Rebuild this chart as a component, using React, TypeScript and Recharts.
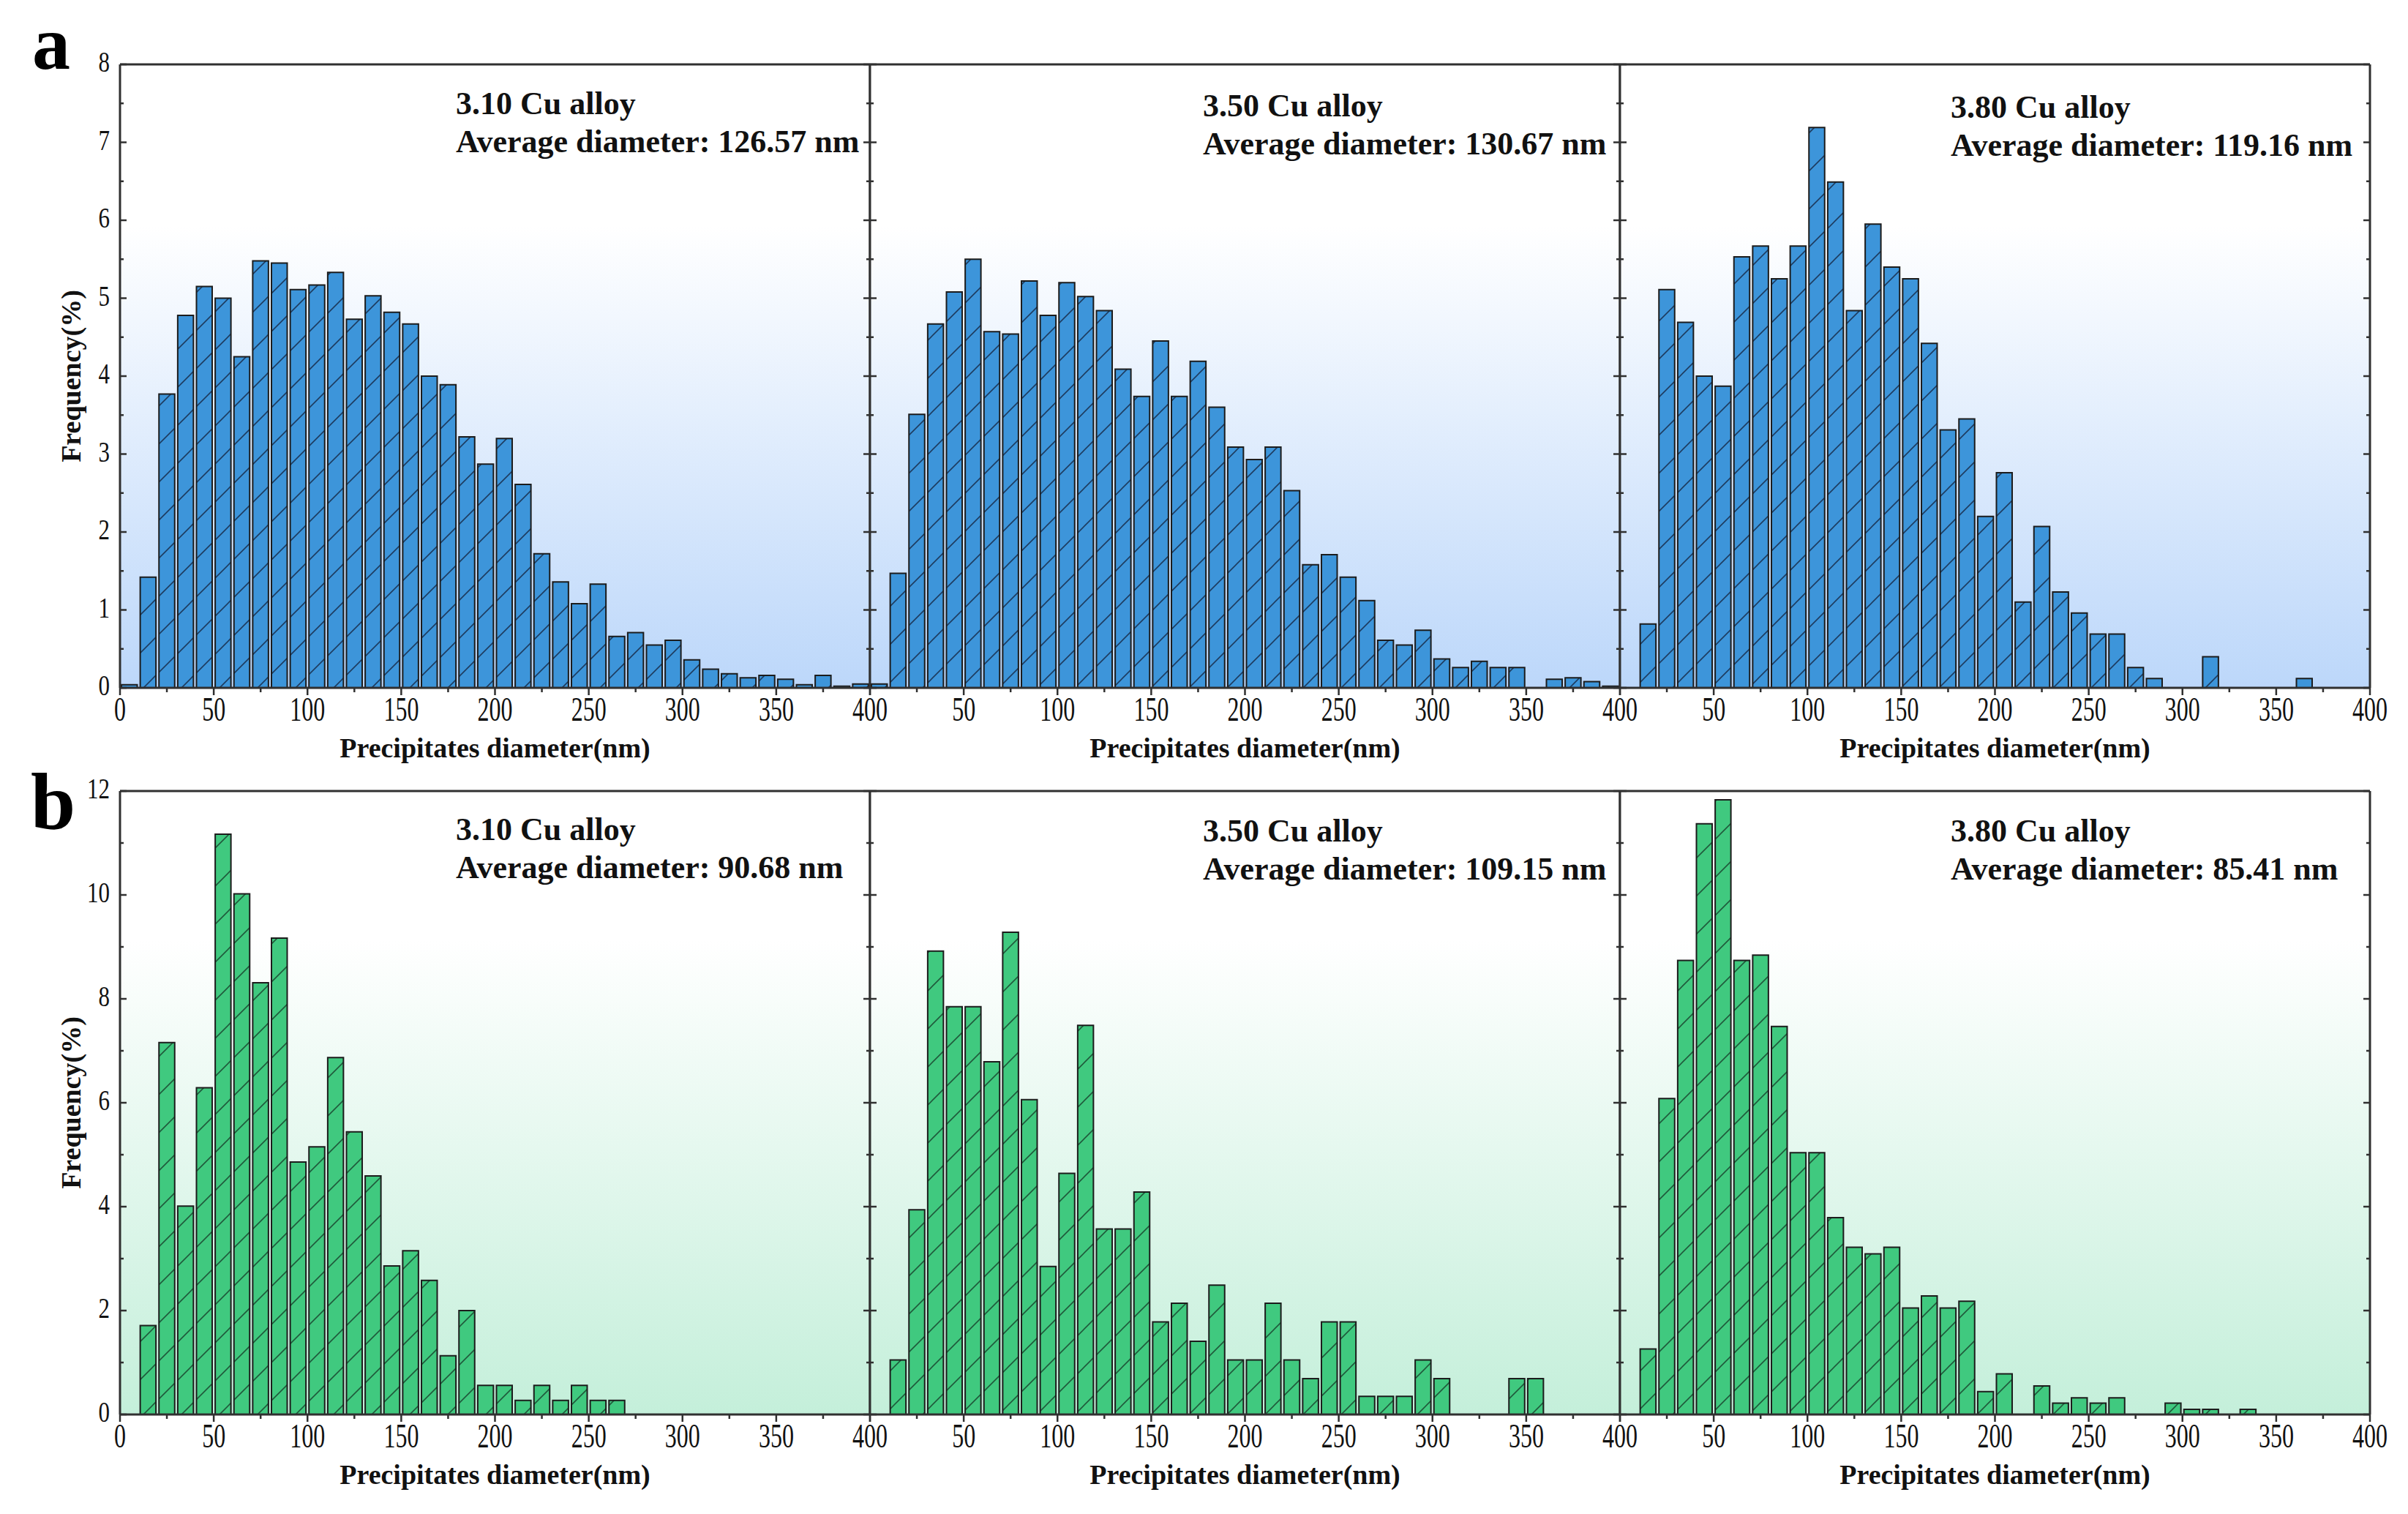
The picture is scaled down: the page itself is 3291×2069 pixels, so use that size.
import React from 'react';
import { BarChart, Bar, XAxis, YAxis, CartesianGrid, ReferenceLine } from 'recharts';

// ---------- data ----------
const binCenters = [5, 15, 25, 35, 45, 55, 65, 75, 85, 95, 105, 115, 125, 135, 145, 155, 165, 175, 185, 195,
  205, 215, 225, 235, 245, 255, 265, 275, 285, 295, 305, 315, 325, 335, 345, 355, 365, 375, 385, 395];

const freqA310 = [0.04, 1.42, 3.77, 4.78, 5.15, 5.0, 4.25, 5.48, 5.45, 5.11, 5.17, 5.33, 4.73, 5.03, 4.82, 4.67, 4.0, 3.89, 3.22, 2.87,
  3.2, 2.61, 1.72, 1.36, 1.08, 1.33, 0.66, 0.71, 0.55, 0.61, 0.36, 0.24, 0.18, 0.13, 0.16, 0.11, 0.04, 0.16, 0.02, 0.05];
const freqA350 = [0.05, 1.47, 3.51, 4.67, 5.08, 5.5, 4.57, 4.54, 5.22, 4.78, 5.2, 5.02, 4.84, 4.09, 3.74, 4.45, 3.74, 4.19, 3.6, 3.09,
  2.93, 3.09, 2.53, 1.58, 1.71, 1.42, 1.12, 0.61, 0.55, 0.74, 0.37, 0.26, 0.34, 0.26, 0.26, 0, 0.11, 0.13, 0.08, 0.02];
const freqA380 = [0, 0.82, 5.11, 4.69, 4.0, 3.87, 5.53, 5.67, 5.25, 5.67, 7.19, 6.49, 4.84, 5.95, 5.4, 5.25, 4.42, 3.31, 3.45, 2.2,
  2.76, 1.1, 2.07, 1.23, 0.96, 0.69, 0.69, 0.26, 0.12, 0, 0, 0.4, 0, 0, 0, 0, 0.12, 0, 0, 0];

const freqB310 = [0, 1.71, 7.16, 4.01, 6.29, 11.17, 10.02, 8.31, 9.17, 4.86, 5.15, 6.87, 5.44, 4.59, 2.86, 3.15, 2.58, 1.13, 2.0, 0.56,
  0.56, 0.27, 0.56, 0.27, 0.56, 0.27, 0.27, 0, 0, 0, 0, 0, 0, 0, 0, 0, 0, 0, 0, 0];
const freqB350 = [0, 1.05, 3.94, 8.92, 7.85, 7.85, 6.79, 9.28, 6.06, 2.85, 4.64, 7.49, 3.57, 3.57, 4.28, 1.78, 2.14, 1.41, 2.49, 1.05,
  1.05, 2.14, 1.05, 0.69, 1.78, 1.78, 0.35, 0.35, 0.35, 1.05, 0.69, 0, 0, 0, 0.69, 0.69, 0, 0, 0, 0];
const freqB380 = [0, 1.26, 6.08, 8.74, 11.37, 11.83, 8.74, 8.84, 7.47, 5.04, 5.04, 3.79, 3.22, 3.09, 3.22, 2.05, 2.28, 2.05, 2.18, 0.44,
  0.78, 0, 0.55, 0.22, 0.32, 0.22, 0.32, 0, 0, 0.22, 0.1, 0.1, 0, 0.1, 0, 0, 0, 0, 0, 0];

const xTicks = [0, 25, 50, 75, 100, 125, 150, 175, 200, 225, 250, 275, 300, 325, 350, 375, 400];
const xMajor = [0, 50, 100, 150, 200, 250, 300, 350, 400];
const yTicksA = [0, 0.5, 1, 1.5, 2, 2.5, 3, 3.5, 4, 4.5, 5, 5.5, 6, 6.5, 7, 7.5, 8];
const yMajorA = [0, 1, 2, 3, 4, 5, 6, 7, 8];
const yTicksB = [0, 1, 2, 3, 4, 5, 6, 7, 8, 9, 10, 11, 12];
const yMajorB = [0, 2, 4, 6, 8, 10, 12];

const alloyNames = ['3.10 Cu alloy', '3.50 Cu alloy', '3.80 Cu alloy'];
const avgDiamA = ['126.57', '130.67', '119.16'];
const avgDiamB = ['90.68', '109.15', '85.41'];
const panelLetters = ['a', 'b'];

// ---------- styles ----------
const FONT = '"Liberation Serif", "Times New Roman", serif';
const AXIS = '#303030';
const PLOT_W = 1025;
const PLOT_H = 852;
const COL_X = [164, 1189, 2214];
const ROW_Y = [88, 1081];
const ANN_DX = [459, 455, 452];
const ANN_DY = [[68, 71, 73], [67, 69, 69]];
const ANN_GAP = 52;

function makeXTick(showZero: boolean) {
  return (p: any) => {
    const { x, y, payload } = p;
    const v = payload.value;
    const major = xMajor.includes(v);
    const showLabel = major && (showZero || v !== 0);
    return (
      <g>
        <line x1={x} y1={y} x2={x} y2={y + (major ? 10 : 6)} stroke={AXIS} strokeWidth={2.5} />
        {showLabel && (
          <text
            transform={`translate(${x},${y + 45}) scale(1,1.42)`}
            textAnchor="middle"
            fontFamily={FONT}
            fontSize={32}
            fill="#111"
          >
            {v}
          </text>
        )}
      </g>
    );
  };
}

// left-axis tick: draws the inward tick on the left border, the mirrored inward tick on the
// right border of the same panel, and (first column only) the tick label.
function makeYTick(majors: number[], showLabel: boolean) {
  return (p: any) => {
    const { x, y, payload } = p;
    const v = payload.value;
    const major = majors.includes(v);
    const len = major ? 9 : 5;
    const xr = x + PLOT_W;
    return (
      <g>
        <line x1={x} y1={y} x2={x + len} y2={y} stroke={AXIS} strokeWidth={2.5} />
        <line x1={xr} y1={y} x2={xr - len} y2={y} stroke={AXIS} strokeWidth={2.5} />
        {showLabel && major && (
          <text
            transform={`translate(${x - 14},${y + 10}) scale(1,1.3)`}
            textAnchor="end"
            fontFamily={FONT}
            fontSize={31}
            fill="#111"
          >
            {v}
          </text>
        )}
      </g>
    );
  };
}

interface PanelProps {
  values: number[];
  row: number;
  col: number;
}

function Panel({ values, row, col }: PanelProps) {
  const data = binCenters.map((x, i) => ({ x, v: values[i] }));
  const yMax = row === 0 ? 8 : 12;
  const yTicks = row === 0 ? yTicksA : yTicksB;
  const yMajor = row === 0 ? yMajorA : yMajorB;
  const avg = row === 0 ? avgDiamA[col] : avgDiamB[col];
  const fillId = row === 0 ? 'hatchA' : 'hatchB';
  const bgId = row === 0 ? 'gradA' : 'gradB';
  const LM = col === 0 ? 164 : 20;
  const TM = 44;
  const RM = 30;
  const BH = 120;
  const width = LM + PLOT_W + RM;
  const height = TM + PLOT_H + BH;
  const annDy = ANN_DY[row][col];

  const xTitle = (p: any) => {
    const vb = p && p.viewBox ? p.viewBox : { x: LM, y: TM + PLOT_H, width: PLOT_W, height: BH };
    return (
      <text x={vb.x + vb.width / 2} y={vb.y + 95} textAnchor="middle" fontFamily={FONT} fontWeight="bold" fontSize={38} fill="#111">
        Precipitates diameter(nm)
      </text>
    );
  };
  const yTitle = (p: any) => {
    const vb = p && p.viewBox ? p.viewBox : { x: 0, y: TM, width: LM, height: PLOT_H };
    const cx = vb.x + 97;
    const cy = vb.y + vb.height / 2;
    return (
      <text x={cx} y={cy} transform={`rotate(-90, ${cx}, ${cy})`} textAnchor="middle" dominantBaseline="central"
        fontFamily={FONT} fontWeight="bold" fontSize={38} fill="#111">
        Frequency(%)
      </text>
    );
  };
  const annotation = (p: any) => {
    const vb = p && p.viewBox ? p.viewBox : { x: LM, y: TM, width: PLOT_W, height: 0 };
    const tx = vb.x + ANN_DX[col];
    const ty = vb.y;
    return (
      <g fontFamily={FONT} fontWeight="bold" fontSize={44} fill="#111">
        <text x={tx} y={ty + annDy}>{alloyNames[col]}</text>
        <text x={tx} y={ty + annDy + ANN_GAP}>{`Average diameter: ${avg} nm`}</text>
      </g>
    );
  };

  return (
    <div style={{ position: 'absolute', left: COL_X[col] - LM, top: ROW_Y[row] - TM, width, height }}>
      <BarChart width={width} height={height} data={data} margin={{ top: TM, right: RM, bottom: 0, left: 0 }}>
        <CartesianGrid horizontal={false} vertical={false} fill={`url(#${bgId})`} />
        <XAxis
          dataKey="x"
          type="number"
          domain={[0, 400]}
          ticks={xTicks}
          interval={0}
          height={BH}
          tickLine={false}
          tickSize={0}
          tickMargin={0}
          axisLine={{ stroke: AXIS, strokeWidth: 3 }}
          tick={makeXTick(col === 0)}
          label={xTitle}
        />
        <YAxis
          type="number"
          domain={[0, yMax]}
          ticks={yTicks}
          interval={0}
          width={LM}
          tickLine={false}
          tickSize={0}
          tickMargin={0}
          axisLine={{ stroke: AXIS, strokeWidth: 3 }}
          tick={makeYTick(yMajor, col === 0)}
          label={col === 0 ? yTitle : undefined}
        />
        <Bar
          dataKey="v"
          fill={`url(#${fillId})`}
          stroke="#1c1c1c"
          strokeWidth={2}
          barSize={21.5}
          isAnimationActive={false}
        />
        <ReferenceLine y={yMax} stroke={AXIS} strokeWidth={3} label={annotation} />
        <ReferenceLine x={400} stroke={AXIS} strokeWidth={3} />
      </BarChart>
    </div>
  );
}

export default function App() {
  const rows = [
    [freqA310, freqA350, freqA380],
    [freqB310, freqB350, freqB380],
  ];
  return (
    <div style={{ position: 'absolute', left: 0, top: 0, width: 3291, height: 2069, background: '#fff', overflow: 'hidden' }}>
      <svg width={3291} height={2069} style={{ position: 'absolute', left: 0, top: 0 }}>
        <defs>
          <linearGradient id="gradA" x1="0" y1="0" x2="0" y2="1">
            <stop offset="0%" stopColor="#ffffff" />
            <stop offset="26%" stopColor="#ffffff" />
            <stop offset="100%" stopColor="#bcd7fa" />
          </linearGradient>
          <linearGradient id="gradB" x1="0" y1="0" x2="0" y2="1">
            <stop offset="0%" stopColor="#ffffff" />
            <stop offset="24%" stopColor="#ffffff" />
            <stop offset="100%" stopColor="#c4efda" />
          </linearGradient>
          <pattern id="hatchA" patternUnits="userSpaceOnUse" width="52" height="52">
            <rect width="52" height="52" fill="#3d95da" />
            <path d="M0,52 L52,0 M-13,13 L13,-13 M39,65 L65,39" stroke="#1d3c60" strokeWidth="1.6" />
          </pattern>
          <pattern id="hatchB" patternUnits="userSpaceOnUse" width="52" height="52">
            <rect width="52" height="52" fill="#40c97f" />
            <path d="M0,52 L52,0 M-13,13 L13,-13 M39,65 L65,39" stroke="#1f5a3b" strokeWidth="1.6" />
          </pattern>
        </defs>
        <text x={44} y={94} fontFamily={FONT} fontWeight="bold" fontSize={104} fill="#000">{panelLetters[0]}</text>
        <text x={42} y={1133} fontFamily={FONT} fontWeight="bold" fontSize={110} fill="#000">{panelLetters[1]}</text>
      </svg>
      {rows.map((r, ri) =>
        r.map((vals, ci) => <Panel key={`${ri}-${ci}`} values={vals} row={ri} col={ci} />)
      )}
    </div>
  );
}
